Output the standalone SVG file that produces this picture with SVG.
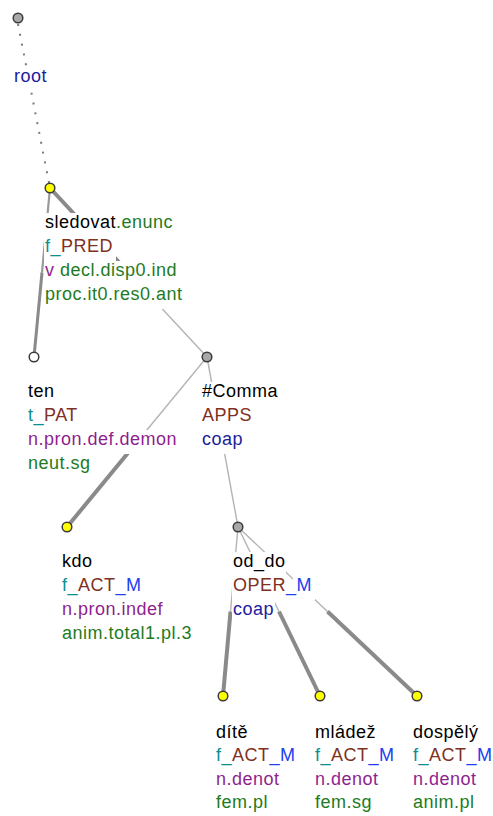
<svg xmlns="http://www.w3.org/2000/svg" width="493" height="816" viewBox="0 0 493 816">
<style>
.t{font-family:"Liberation Sans",Arial,Helvetica,sans-serif;font-size:18px;letter-spacing:0.5px}
.bg{fill:#fff}
.k{fill:#000}.g{fill:#1e7b1e}.c{fill:#0a9090}.b{fill:#80301e}.m{fill:#2040f0}.p{fill:#8e1f8e}.d{fill:#1c1c9c}
.thin{stroke:#b4b4b4;stroke-width:1.4;fill:none}
.thick{stroke:#8a8a8a;stroke-width:4;fill:none}
.mid{stroke:#999;stroke-width:2.2;fill:none}
.mid2{stroke:#8a8a8a;stroke-width:3;fill:none}
.dot{stroke:#7a7a7a;stroke-width:2;stroke-dasharray:2 8;fill:none}
.n{stroke:#3a3a3a;stroke-width:1.5}
.y{fill:#ffff00}.gr{fill:#a8a8a8}.w{fill:#fff}
</style>
<rect width="493" height="816" fill="#fff"/>
<g id="connectors">
  <line class="dot" x1="18" y1="24" x2="50" y2="188"/>
  <line class="mid" x1="50" y1="188" x2="42" y2="272.5"/>
  <line class="mid2" x1="42" y1="272.5" x2="34" y2="357"/>
  <line class="thick" x1="50" y1="188" x2="128.5" y2="272.5"/>
  <line class="thin" x1="128.5" y1="272.5" x2="207" y2="357"/>
  <line class="thin" x1="207" y1="357" x2="137" y2="442"/>
  <line class="thick" x1="137" y1="442" x2="67" y2="527"/>
  <line class="thin" x1="207" y1="357" x2="238" y2="527"/>
  <line class="thin" x1="238" y1="527" x2="230.5" y2="611.5"/>
  <line class="thick" x1="230.5" y1="611.5" x2="223" y2="696"/>
  <line class="thin" x1="238" y1="527" x2="279" y2="611.5"/>
  <line class="thick" x1="279" y1="611.5" x2="320" y2="696"/>
  <line class="thin" x1="238" y1="527" x2="327.5" y2="611.5"/>
  <line class="thick" x1="327.5" y1="611.5" x2="417" y2="696"/>
</g>
<g id="root">
  <circle class="n gr" cx="18" cy="18" r="4.8"/>
  <rect class="bg" x="13" y="67" width="35" height="24"/>
  <text class="t d" x="14" y="82">root</text>
</g>
<g id="sledovat">
  <rect class="bg" x="44" y="213" width="131" height="24"/>
  <rect class="bg" x="44" y="237" width="72" height="24"/>
  <rect class="bg" x="44" y="261" width="135" height="24"/>
  <rect class="bg" x="44" y="285" width="140" height="24"/>
  <text class="t" x="45" y="228"><tspan class="k">sledovat</tspan><tspan class="g">.enunc</tspan></text>
  <text class="t" x="45" y="252"><tspan class="c">f_</tspan><tspan class="b">PRED</tspan></text>
  <text class="t" x="45" y="276"><tspan class="p">v</tspan><tspan class="g"> decl.disp0.ind</tspan></text>
  <text class="t g" x="45" y="300">proc.it0.res0.ant</text>
  <circle class="n y" cx="50" cy="188" r="4.8"/>
</g>
<g id="ten">
  <rect class="bg" x="27" y="382" width="32" height="24"/>
  <rect class="bg" x="27" y="406" width="55" height="24"/>
  <rect class="bg" x="27" y="430" width="151" height="24"/>
  <rect class="bg" x="27" y="454" width="65" height="24"/>
  <text class="t k" x="28" y="397">ten</text>
  <text class="t" x="28" y="421"><tspan class="c">t_</tspan><tspan class="b">PAT</tspan></text>
  <text class="t p" x="28" y="445">n.pron.def.demon</text>
  <text class="t g" x="28" y="469">neut.sg</text>
  <circle class="n w" cx="34" cy="357" r="4.8"/>
</g>
<g id="comma">
  <rect class="bg" x="201" y="382" width="78" height="24"/>
  <rect class="bg" x="201" y="406" width="52" height="24"/>
  <rect class="bg" x="201" y="430" width="43" height="24"/>
  <text class="t k" x="202" y="397">#Comma</text>
  <text class="t b" x="202" y="421">APPS</text>
  <text class="t d" x="202" y="445">coap</text>
  <circle class="n gr" cx="207" cy="357" r="4.8"/>
</g>
<g id="kdo">
  <rect class="bg" x="61" y="552" width="28" height="24"/>
  <rect class="bg" x="61" y="576" width="84" height="24"/>
  <rect class="bg" x="61" y="600" width="102" height="24"/>
  <rect class="bg" x="61" y="624" width="132" height="24"/>
  <text class="t k" x="62" y="567">kdo</text>
  <text class="t" x="62" y="591"><tspan class="c">f_</tspan><tspan class="b">ACT</tspan><tspan class="m">_M</tspan></text>
  <text class="t p" x="62" y="615">n.pron.indef</text>
  <text class="t g" x="62" y="639">anim.total1.pl.3</text>
  <circle class="n y" cx="67" cy="527" r="4.8"/>
</g>
<g id="od_do">
  <rect class="bg" x="232" y="552" width="54" height="24"/>
  <rect class="bg" x="232" y="576" width="57" height="24"/>
  <rect class="bg" x="293" y="576" width="22" height="24"/>
  <rect class="bg" x="232" y="600" width="43" height="24"/>
  <text class="t k" x="233" y="567">od_do</text>
  <text class="t" x="233" y="591"><tspan class="b">OPER</tspan><tspan class="m">_M</tspan></text>
  <text class="t d" x="233" y="615">coap</text>
  <circle class="n gr" cx="238" cy="527" r="4.8"/>
</g>
<g id="dite">
  <text class="t k" x="216" y="738">dítě</text>
  <text class="t" x="216" y="761"><tspan class="c">f_</tspan><tspan class="b">ACT</tspan><tspan class="m">_M</tspan></text>
  <text class="t p" x="216" y="785">n.denot</text>
  <text class="t g" x="216" y="808">fem.pl</text>
  <circle class="n y" cx="223" cy="696" r="4.8"/>
</g>
<g id="mladez">
  <text class="t k" x="315" y="738">mládež</text>
  <text class="t" x="315" y="761"><tspan class="c">f_</tspan><tspan class="b">ACT</tspan><tspan class="m">_M</tspan></text>
  <text class="t p" x="315" y="785">n.denot</text>
  <text class="t g" x="315" y="808">fem.sg</text>
  <circle class="n y" cx="320" cy="696" r="4.8"/>
</g>
<g id="dospely">
  <text class="t k" x="413" y="738">dospělý</text>
  <text class="t" x="413" y="761"><tspan class="c">f_</tspan><tspan class="b">ACT</tspan><tspan class="m">_M</tspan></text>
  <text class="t p" x="413" y="785">n.denot</text>
  <text class="t g" x="413" y="808">anim.pl</text>
  <circle class="n y" cx="417" cy="696" r="4.8"/>
</g>
</svg>
